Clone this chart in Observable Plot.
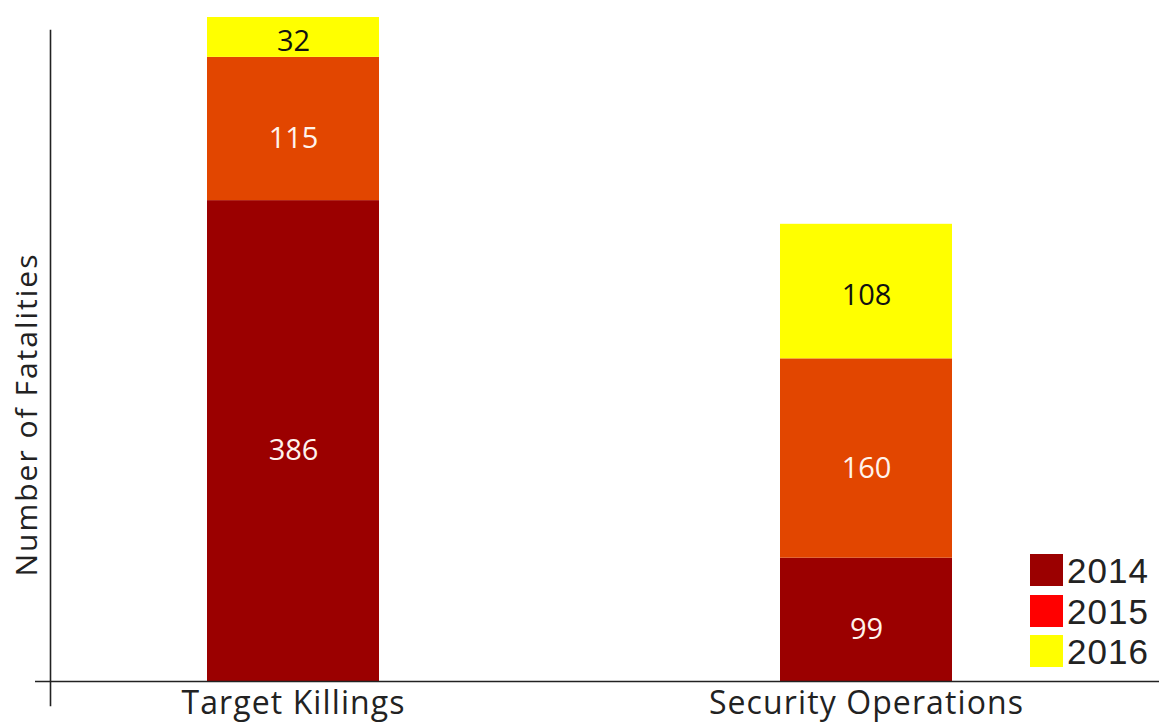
<!DOCTYPE html>
<html>
<head>
<meta charset="utf-8">
<script src="https://cdn.jsdelivr.net/npm/d3@7"></script>
<script src="https://cdn.jsdelivr.net/npm/@observablehq/plot@0.6"></script>
<style>
  html, body { margin: 0; padding: 0; background: #fff; }
  #wrap { position: relative; width: 1159px; height: 725px; }
  #legend { position: absolute; left: 1030px; top: 550px; font-family: "Liberation Sans", sans-serif; color: #222; }
  .row { display: flex; align-items: center; height: 40.5px; }
  .sw { width: 33px; height: 32px; margin-right: 4px; }
  .lab { font-size: 35px; line-height: 40px; letter-spacing: 1px; position: relative; top: 1px; }
</style>
</head>
<body>
<div id="wrap"></div>
<script>
// Fatalities by category, stacked by year
const categories = ["Target Killings", "Security Operations"];
const years = ["2014", "2015", "2016"];
const values2014 = [386, 99];
const values2015 = [115, 160];
const values2016 = [32, 108];

const barColors = ["#9b0000", "#e24600", "#ffff00"];
const legendColors = ["#9b0000", "#ff0000", "#ffff00"];
const FONT = '"Open Sans", sans-serif';

const series = [values2014, values2015, values2016];
const data = [];
categories.forEach((category, i) => {
  years.forEach((year, j) => data.push({category, year, value: series[j][i]}));
});

const stackOpts = {x: "category", y: "value", text: d => String(d.value), fontSize: 29};

const chart = Plot.plot({
  width: 1159,
  height: 725,
  marginLeft: 50,
  marginRight: 0,
  marginTop: 17,
  marginBottom: 44,
  style: {fontFamily: FONT, fontSize: "32px", background: "white", color: "#222", overflow: "visible"},
  x: {domain: categories, range: [206, 952], paddingInner: 0.7, paddingOuter: 0, label: null, tickSize: 0, tickPadding: 10},
  y: {axis: null},
  color: {domain: years, range: barColors},
  marks: [
    Plot.barY(data, {x: "category", y: "value", fill: "year"}),
    // value labels centred in each segment: light on dark fills, dark on yellow
    Plot.text(data, Plot.filter(d => d.year !== "2016", Plot.stackY({...stackOpts, fill: "#fff3ec", dy: 10}))),
    Plot.text(data, Plot.filter(d => d.year === "2016", Plot.stackY({...stackOpts, fill: "#111", dy: 4}))),
    // axis lines
    Plot.ruleY([0], {stroke: "#222", strokeWidth: 1.6, insetLeft: -15}),
    Plot.frame({anchor: "left", stroke: "#222", strokeWidth: 1.6, insetTop: 13, insetBottom: -24}),
    Plot.text(["Number of Fatalities"], {frameAnchor: "left", textAnchor: "middle", rotate: -90, dx: -23, dy: 65, fontSize: 30, fill: "#222"})
  ]
});

// wider tracking for the axis texts
const svg = d3.select(chart);
svg.selectAll("text")
  .filter(function () { return categories.includes(this.textContent); })
  .style("letter-spacing", "1.1px");
svg.selectAll("text")
  .filter(function () { return this.textContent === "Number of Fatalities"; })
  .style("letter-spacing", "2px");

const wrap = document.getElementById("wrap");
wrap.appendChild(chart);

// legend: one swatch per year
const legend = document.createElement("div");
legend.id = "legend";
years.forEach((year, i) => {
  const row = document.createElement("div");
  row.className = "row";
  const sw = document.createElement("div");
  sw.className = "sw";
  sw.style.background = legendColors[i];
  const lab = document.createElement("span");
  lab.className = "lab";
  lab.textContent = year;
  row.appendChild(sw);
  row.appendChild(lab);
  legend.appendChild(row);
});
wrap.appendChild(legend);
</script>
</body>
</html>
